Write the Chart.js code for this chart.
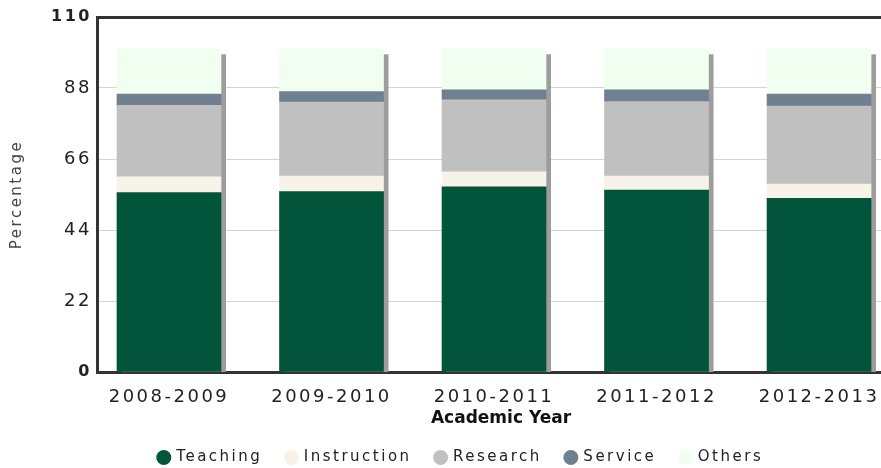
<!DOCTYPE html>
<html>
<head>
<meta charset="utf-8">
<script src="https://cdn.jsdelivr.net/npm/chart.js@4/dist/chart.umd.min.js"></script>
<style>
html, body { margin: 0; padding: 0; overflow: hidden; background: #fff; }
#wrap { width: 922px; height: 475px; }
</style>
</head>
<body>
<div id="wrap"><canvas id="myBarChart" width="922" height="475"></canvas></div>
<script>
// academic years on the x axis
const years = ['2008-2009', '2009-2010', '2010-2011', '2011-2012', '2012-2013'];

// percentage of effort per year
const teaching = [55.6, 55.9, 57.4, 56.4, 53.8];
const instruction = [4.9, 4.8, 4.6, 4.3, 4.4];
const research = [22.1, 22.9, 22.3, 23.1, 24.2];
const service = [3.5, 3.3, 3.1, 3.6, 3.7];
const others = [13.9, 13.1, 12.6, 12.6, 13.9];

const yTicks = [0, 22, 44, 66, 88, 110];

const SPACING = '2.5px';

Chart.defaults.font.family = 'DejaVu Sans';
Chart.defaults.color = '#222';

const toPoints = (arr) => arr.map((v, i) => ({ x: i, y: v }));

// wider text like the original, except the bold x title
const letterSpacing = {
    id: 'letterSpacing',
    beforeLayout(chart) {
        chart.ctx.letterSpacing = SPACING;
    },
    beforeDraw(chart) {
        chart.ctx.letterSpacing = SPACING;
        const xs = chart.scales.x;
        if (!xs._patched) {
            const orig = xs.drawTitle;
            xs.drawTitle = function () {
                this.ctx.letterSpacing = '0px';
                orig.apply(this, arguments);
                this.ctx.letterSpacing = SPACING;
            };
            xs._patched = true;
        }
    }
};

// grey drop shadow on the right of each stack
const barShadow = {
    id: 'barShadow',
    beforeDatasetsDraw(chart) {
        const ctx = chart.ctx;
        const tops = chart.getDatasetMeta(chart.data.datasets.length - 1).data;
        const base = chart.scales.y.getPixelForValue(0);
        ctx.save();
        ctx.fillStyle = '#9d9d9d';
        tops.forEach(bar => {
            const w = bar.width;
            ctx.fillRect(bar.x - w / 2 + 5, bar.y + 5, w, base - bar.y - 5);
        });
        ctx.restore();
    }
};

const ctx = document.getElementById('myBarChart').getContext('2d');

const myBarChart = new Chart(ctx, {
    type: 'bar',
    data: {
        datasets: [
            { label: 'Teaching', data: toPoints(teaching), backgroundColor: '#02553a' },
            { label: 'Instruction', data: toPoints(instruction), backgroundColor: '#f7f3e8' },
            { label: 'Research', data: toPoints(research), backgroundColor: '#c0c0c0' },
            { label: 'Service', data: toPoints(service), backgroundColor: '#708090' },
            { label: 'Others', data: toPoints(others), backgroundColor: '#f0fff0' }
        ]
    },
    options: {
        responsive: false,
        maintainAspectRatio: false,
        animation: false,
        barThickness: 104,
        borderWidth: 0,
        layout: { padding: { left: 17, top: 17, right: 17, bottom: 0 } },
        plugins: {
            tooltip: { enabled: false },
            legend: {
                position: 'bottom',
                labels: {
                    usePointStyle: true,
                    pointStyle: 'circle',
                    boxWidth: 10,
                    boxHeight: 10.6,
                    padding: 24,
                    color: '#222',
                    font: { size: 15 }
                }
            }
        },
        scales: {
            x: {
                type: 'linear',
                stacked: true,
                offset: false,
                min: -0.443,
                max: 4.529,
                grid: { display: false },
                border: { color: '#333', width: 3 },
                afterBuildTicks: (scale) => { scale.ticks = years.map((_, i) => ({ value: i })); },
                afterFit: (scale) => { scale.height = 54; },
                ticks: {
                    autoSkip: false,
                    maxRotation: 0,
                    padding: 7,
                    color: '#222',
                    font: { size: 18 },
                    callback: (v) => years[v] ?? ''
                },
                title: {
                    display: true,
                    text: 'Academic Year',
                    color: '#111',
                    font: { size: 17, weight: 'bold' },
                    padding: { top: 0, bottom: -3 }
                }
            },
            y: {
                stacked: true,
                min: 0,
                max: 110,
                afterBuildTicks: (scale) => { scale.ticks = yTicks.map(v => ({ value: v })); },
                afterFit: (scale) => { scale.width = 80; },
                grid: {
                    drawTicks: false,
                    color: (c) => c.tick.value === 110 ? '#333' : (c.tick.value === 0 ? 'rgba(0,0,0,0)' : '#d4d4d4'),
                    lineWidth: (c) => c.tick.value === 110 ? 3 : 1
                },
                border: { color: '#333', width: 3 },
                ticks: {
                    padding: 5,
                    color: '#222',
                    font: (c) => {
                        const bold = c.tick && (c.tick.value === 0 || c.tick.value === 110);
                        return { size: bold ? 16 : 18, weight: bold ? 'bold' : 'normal' };
                    }
                },
                title: {
                    display: true,
                    text: 'Percentage',
                    color: '#444',
                    font: { size: 15 },
                    padding: { top: -9, bottom: 0 }
                }
            }
        }
    },
    plugins: [letterSpacing, barShadow]
});
</script>
</body>
</html>
